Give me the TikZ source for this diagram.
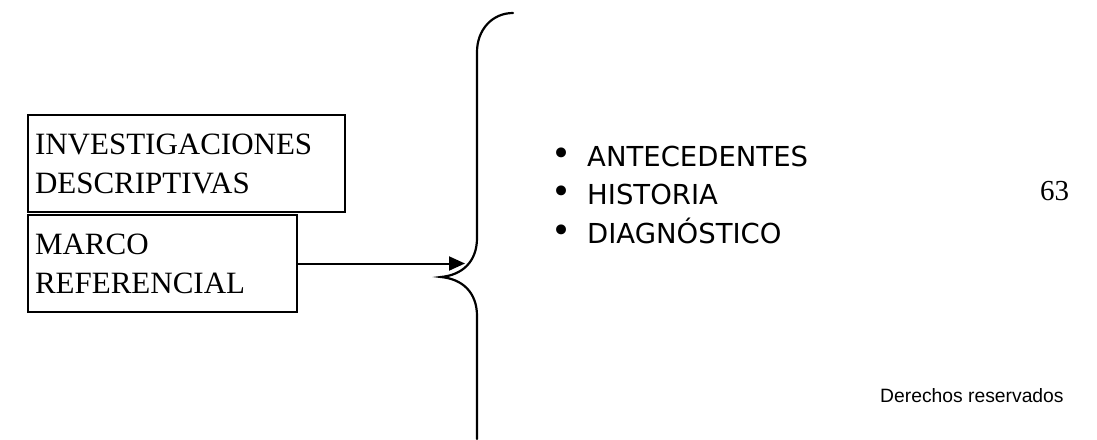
\documentclass[tikz,border=0pt]{standalone}
\usepackage{fontspec}
\setmainfont{Liberation Serif}
\newfontfamily\listfont{DejaVu Sans}
\newfontfamily\notefont{Liberation Sans}
\usetikzlibrary{arrows.meta}

\begin{document}
\begin{tikzpicture}[x=1pt,y=-1pt,
  box/.style={draw,line width=2pt,align=left,inner xsep=7pt,inner ysep=0pt,
    font=\fontsize{31}{39}\selectfont},
  conn/.style={line width=2pt,-{Triangle[length=16pt,width=14pt]}},
  brace/.style={line width=2.2pt,line cap=round},
  bulletmark/.style={anchor=base,inner sep=0pt,font=\listfont\fontsize{34}{36}\selectfont},
  item/.style={anchor=base west,inner sep=0pt,font=\listfont\fontsize{27.5}{32}\selectfont},
  pagenum/.style={anchor=base west,inner sep=0pt,font=\fontsize{29}{34}\selectfont},
  note/.style={anchor=base west,inner sep=0pt,font=\notefont\fontsize{19.3}{23}\selectfont}]
\useasboundingbox (0,0) rectangle (1097,439);

% the two boxes on the left
\node[box,text width=303pt,minimum height=97pt] (b1) at (186.5,163.5)
  {INVESTIGACIONES\\DESCRIPTIVAS};
\node[box,text width=255pt,minimum height=97pt] (b2) at (162.5,263.5)
  {MARCO\\REFERENCIAL};

% curly brace
\coordinate (bt) at (513,13);
\coordinate (bm) at (441,277);
\coordinate (bb) at (477,439);
\draw[brace] (bt) .. controls (492,13) and (477,30) .. (477,52)
  -- (477,238) .. controls (477,262) and (462,275) .. (bm)
  .. controls (462,279) and (477,292) .. (477,316) -- (bb);

% arrow into the brace
\coordinate (tip) at (465,263.5);
\draw[conn] (b2.east) -- (tip);

% bullet list
\node[bulletmark] (m1) at (562,165) {•};
\node[bulletmark] (m2) at (562,203.5) {•};
\node[bulletmark] (m3) at (562,242) {•};
\node[item] (i1) at (587,166) {ANTECEDENTES};
\node[item] (i2) at (587,204.5) {HISTORIA};
\node[item] (i3) at (587,243) {DIAGNÓSTICO};

% page number and footer
\node[pagenum] (pn) at (1040,200) {63};
\node[note] (dr) at (880,402) {Derechos reservados};
\end{tikzpicture}
\end{document}
